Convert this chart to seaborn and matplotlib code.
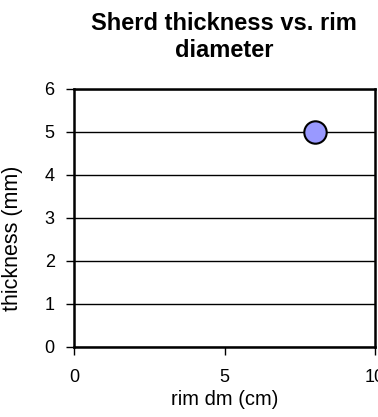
import matplotlib
matplotlib.use("Agg")
import matplotlib.pyplot as plt
import seaborn as sns
import pandas as pd

# data
rim_dm = [8]
thickness = [5]
x_ticks = [0, 5, 10]
y_ticks = [0, 1, 2, 3, 4, 5, 6]

df = pd.DataFrame({"rim dm (cm)": rim_dm, "thickness (mm)": thickness})

sns.set_style("white")
plt.rcParams['font.family'] = ['Liberation Sans', 'DejaVu Sans']
plt.rcParams['text.color'] = 'black'
plt.rcParams['axes.labelcolor'] = 'black'

fig = plt.figure(figsize=(3.78, 4.17), dpi=100)
ax = fig.add_axes([0.196, 0.168, 0.796, 0.619])

sns.scatterplot(data=df, x="rim dm (cm)", y="thickness (mm)", ax=ax,
                s=260, color="#9999FF", edgecolor="black", linewidth=1.5,
                zorder=3, clip_on=False)

ax.set_xlim(0, 10)
ax.set_ylim(0, 6)
ax.set_xticks(x_ticks)
ax.set_yticks(y_ticks)
ax.yaxis.grid(True, color="black", linewidth=1)
ax.set_axisbelow(True)

for sp in ax.spines.values():
    sp.set_color("black")
    sp.set_linewidth(1.8)

ax.tick_params(axis="both", direction="out", length=6, width=1,
               color="black", labelsize=13, labelcolor="black", bottom=True, left=True)
ax.tick_params(axis="x", pad=10)
ax.tick_params(axis="y", pad=8)
ax.set_xlabel("rim dm (cm)", fontsize=14.5)
ax.set_ylabel("thickness (mm)", fontsize=15.5)
ax.xaxis.set_label_coords(0.5, -0.165)
ax.yaxis.set_label_coords(-0.17, 0.42)

fig.text(0.593, 0.911, "Sherd thickness vs. rim\ndiameter", fontsize=17,
         fontweight="bold", ha="center", va="center", linespacing=1.25)

fig.savefig("out.png", dpi=100)
